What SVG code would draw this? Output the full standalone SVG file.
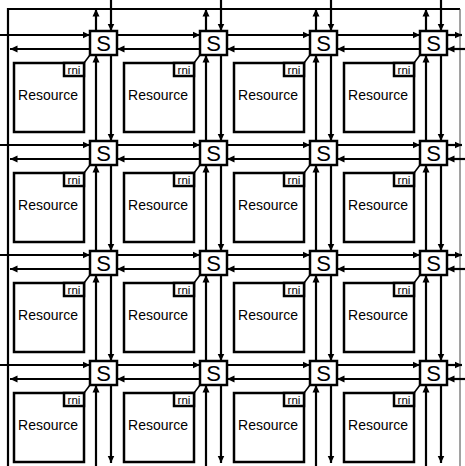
<svg xmlns="http://www.w3.org/2000/svg" width="465" height="466" viewBox="0 0 465 466">
<style>
.box{fill:#fff;stroke:#000;stroke-width:2.5}
.ln{fill:none;stroke:#000;stroke-width:2.2}
text{font-family:"Liberation Sans",Arial,sans-serif;fill:#000;text-anchor:middle}
.s{font-size:22px}
.r{font-size:14px}
.n{font-size:11.5px}
</style>
<defs>
<marker id="ah" markerUnits="userSpaceOnUse" markerWidth="9" markerHeight="9" refX="7.5" refY="4.5" orient="auto"><path d="M0,1L7.5,4.5L0,8z" fill="#000"/></marker>
</defs>
<rect width="465" height="466" fill="#fff"/>
<g id="frame">
<path class="ln" d="M8,466V9H460"/>
<path d="M460,9V466" fill="none" stroke="#444" stroke-width="1"/>
</g>
<g id="connectors" class="ln">
<g marker-end="url(#ah)">
<path d="M0,35H90"/><path d="M117,35H200"/><path d="M227,35H310"/><path d="M337,35H420"/><path d="M447,35H462"/>
<path d="M90,49H10"/><path d="M200,49H117"/><path d="M310,49H227"/><path d="M420,49H337"/><path d="M465,49H447"/>
<path d="M0,145H90"/><path d="M117,145H200"/><path d="M227,145H310"/><path d="M337,145H420"/><path d="M447,145H462"/>
<path d="M90,159H10"/><path d="M200,159H117"/><path d="M310,159H227"/><path d="M420,159H337"/><path d="M465,159H447"/>
<path d="M0,255H90"/><path d="M117,255H200"/><path d="M227,255H310"/><path d="M337,255H420"/><path d="M447,255H462"/>
<path d="M90,269H10"/><path d="M200,269H117"/><path d="M310,269H227"/><path d="M420,269H337"/><path d="M465,269H447"/>
<path d="M0,365H90"/><path d="M117,365H200"/><path d="M227,365H310"/><path d="M337,365H420"/><path d="M447,365H462"/>
<path d="M90,379H10"/><path d="M200,379H117"/><path d="M310,379H227"/><path d="M420,379H337"/><path d="M465,379H447"/>
<path d="M96,31V9"/><path d="M96,141V55"/><path d="M96,251V165"/><path d="M96,361V275"/><path d="M96,466V385"/>
<path d="M111,0V31"/><path d="M111,55V141"/><path d="M111,165V251"/><path d="M111,275V361"/><path d="M111,385V463"/>
<path d="M206,31V9"/><path d="M206,141V55"/><path d="M206,251V165"/><path d="M206,361V275"/><path d="M206,466V385"/>
<path d="M221,0V31"/><path d="M221,55V141"/><path d="M221,165V251"/><path d="M221,275V361"/><path d="M221,385V463"/>
<path d="M316,31V9"/><path d="M316,141V55"/><path d="M316,251V165"/><path d="M316,361V275"/><path d="M316,466V385"/>
<path d="M331,0V31"/><path d="M331,55V141"/><path d="M331,165V251"/><path d="M331,275V361"/><path d="M331,385V463"/>
<path d="M426,31V9"/><path d="M426,141V55"/><path d="M426,251V165"/><path d="M426,361V275"/><path d="M426,466V385"/>
<path d="M441,0V31"/><path d="M441,55V141"/><path d="M441,165V251"/><path d="M441,275V361"/><path d="M441,385V463"/>
</g>
<g stroke-width="1.5">
<path d="M84,63L90,55"/><path d="M194,63L200,55"/><path d="M304,63L310,55"/><path d="M414,63L420,55"/>
<path d="M84,173L90,165"/><path d="M194,173L200,165"/><path d="M304,173L310,165"/><path d="M414,173L420,165"/>
<path d="M84,283L90,275"/><path d="M194,283L200,275"/><path d="M304,283L310,275"/><path d="M414,283L420,275"/>
<path d="M84,393L90,385"/><path d="M194,393L200,385"/><path d="M304,393L310,385"/><path d="M414,393L420,385"/>
</g>
</g>
<g id="sw-0-0"><rect class="box" x="90" y="31" width="27" height="24"/><text class="s" x="103.5" y="51">S</text></g>
<g id="sw-0-1"><rect class="box" x="200" y="31" width="27" height="24"/><text class="s" x="213.5" y="51">S</text></g>
<g id="sw-0-2"><rect class="box" x="310" y="31" width="27" height="24"/><text class="s" x="323.5" y="51">S</text></g>
<g id="sw-0-3"><rect class="box" x="420" y="31" width="27" height="24"/><text class="s" x="433.5" y="51">S</text></g>
<g id="sw-1-0"><rect class="box" x="90" y="141" width="27" height="24"/><text class="s" x="103.5" y="161">S</text></g>
<g id="sw-1-1"><rect class="box" x="200" y="141" width="27" height="24"/><text class="s" x="213.5" y="161">S</text></g>
<g id="sw-1-2"><rect class="box" x="310" y="141" width="27" height="24"/><text class="s" x="323.5" y="161">S</text></g>
<g id="sw-1-3"><rect class="box" x="420" y="141" width="27" height="24"/><text class="s" x="433.5" y="161">S</text></g>
<g id="sw-2-0"><rect class="box" x="90" y="251" width="27" height="24"/><text class="s" x="103.5" y="271">S</text></g>
<g id="sw-2-1"><rect class="box" x="200" y="251" width="27" height="24"/><text class="s" x="213.5" y="271">S</text></g>
<g id="sw-2-2"><rect class="box" x="310" y="251" width="27" height="24"/><text class="s" x="323.5" y="271">S</text></g>
<g id="sw-2-3"><rect class="box" x="420" y="251" width="27" height="24"/><text class="s" x="433.5" y="271">S</text></g>
<g id="sw-3-0"><rect class="box" x="90" y="361" width="27" height="24"/><text class="s" x="103.5" y="381">S</text></g>
<g id="sw-3-1"><rect class="box" x="200" y="361" width="27" height="24"/><text class="s" x="213.5" y="381">S</text></g>
<g id="sw-3-2"><rect class="box" x="310" y="361" width="27" height="24"/><text class="s" x="323.5" y="381">S</text></g>
<g id="sw-3-3"><rect class="box" x="420" y="361" width="27" height="24"/><text class="s" x="433.5" y="381">S</text></g>
<g id="res-0-0"><rect class="box" x="14" y="63" width="70" height="69"/><text class="r" x="48" y="100">Resource</text><rect class="box" x="64" y="63" width="20" height="13"/><text class="n" x="74" y="74">rni</text></g>
<g id="res-0-1"><rect class="box" x="124" y="63" width="70" height="69"/><text class="r" x="158" y="100">Resource</text><rect class="box" x="174" y="63" width="20" height="13"/><text class="n" x="184" y="74">rni</text></g>
<g id="res-0-2"><rect class="box" x="234" y="63" width="70" height="69"/><text class="r" x="268" y="100">Resource</text><rect class="box" x="284" y="63" width="20" height="13"/><text class="n" x="294" y="74">rni</text></g>
<g id="res-0-3"><rect class="box" x="344" y="63" width="70" height="69"/><text class="r" x="378" y="100">Resource</text><rect class="box" x="394" y="63" width="20" height="13"/><text class="n" x="404" y="74">rni</text></g>
<g id="res-1-0"><rect class="box" x="14" y="173" width="70" height="69"/><text class="r" x="48" y="210">Resource</text><rect class="box" x="64" y="173" width="20" height="13"/><text class="n" x="74" y="184">rni</text></g>
<g id="res-1-1"><rect class="box" x="124" y="173" width="70" height="69"/><text class="r" x="158" y="210">Resource</text><rect class="box" x="174" y="173" width="20" height="13"/><text class="n" x="184" y="184">rni</text></g>
<g id="res-1-2"><rect class="box" x="234" y="173" width="70" height="69"/><text class="r" x="268" y="210">Resource</text><rect class="box" x="284" y="173" width="20" height="13"/><text class="n" x="294" y="184">rni</text></g>
<g id="res-1-3"><rect class="box" x="344" y="173" width="70" height="69"/><text class="r" x="378" y="210">Resource</text><rect class="box" x="394" y="173" width="20" height="13"/><text class="n" x="404" y="184">rni</text></g>
<g id="res-2-0"><rect class="box" x="14" y="283" width="70" height="69"/><text class="r" x="48" y="320">Resource</text><rect class="box" x="64" y="283" width="20" height="13"/><text class="n" x="74" y="294">rni</text></g>
<g id="res-2-1"><rect class="box" x="124" y="283" width="70" height="69"/><text class="r" x="158" y="320">Resource</text><rect class="box" x="174" y="283" width="20" height="13"/><text class="n" x="184" y="294">rni</text></g>
<g id="res-2-2"><rect class="box" x="234" y="283" width="70" height="69"/><text class="r" x="268" y="320">Resource</text><rect class="box" x="284" y="283" width="20" height="13"/><text class="n" x="294" y="294">rni</text></g>
<g id="res-2-3"><rect class="box" x="344" y="283" width="70" height="69"/><text class="r" x="378" y="320">Resource</text><rect class="box" x="394" y="283" width="20" height="13"/><text class="n" x="404" y="294">rni</text></g>
<g id="res-3-0"><rect class="box" x="14" y="393" width="70" height="69"/><text class="r" x="48" y="430">Resource</text><rect class="box" x="64" y="393" width="20" height="13"/><text class="n" x="74" y="404">rni</text></g>
<g id="res-3-1"><rect class="box" x="124" y="393" width="70" height="69"/><text class="r" x="158" y="430">Resource</text><rect class="box" x="174" y="393" width="20" height="13"/><text class="n" x="184" y="404">rni</text></g>
<g id="res-3-2"><rect class="box" x="234" y="393" width="70" height="69"/><text class="r" x="268" y="430">Resource</text><rect class="box" x="284" y="393" width="20" height="13"/><text class="n" x="294" y="404">rni</text></g>
<g id="res-3-3"><rect class="box" x="344" y="393" width="70" height="69"/><text class="r" x="378" y="430">Resource</text><rect class="box" x="394" y="393" width="20" height="13"/><text class="n" x="404" y="404">rni</text></g>
</svg>
